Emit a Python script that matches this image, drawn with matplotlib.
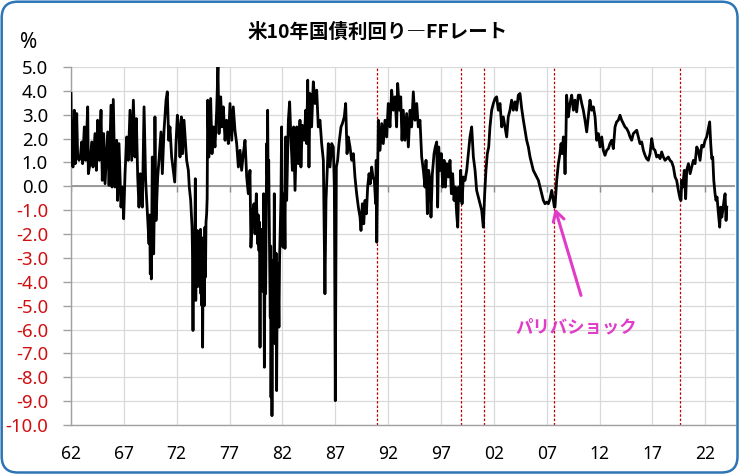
import matplotlib
matplotlib.use("Agg")
import matplotlib.pyplot as plt
from matplotlib.patches import FancyBboxPatch
import numpy as np

# ---------------- data (decimal year, 10y yield minus FF rate, %) ----------------
dates_1960s = [1962.00, 1962.06, 1962.19, 1962.31, 1962.41, 1962.54, 1962.63, 1962.76, 1962.88,
               1963.01, 1963.10, 1963.26, 1963.39, 1963.58, 1963.64, 1963.80, 1963.96,
               1964.08, 1964.27, 1964.40, 1964.52, 1964.68, 1964.84, 1964.96,
               1965.09, 1965.22, 1965.47, 1965.60, 1965.78, 1965.88,
               1966.00, 1966.16, 1966.32, 1966.41, 1966.54, 1966.73, 1966.86, 1966.98,
               1967.11, 1967.27, 1967.42, 1967.58, 1967.74, 1967.90,
               1968.05, 1968.18, 1968.31, 1968.43, 1968.56, 1968.75, 1968.91,
               1969.06, 1969.25, 1969.38, 1969.44, 1969.50, 1969.55, 1969.60, 1969.65, 1969.69,
               1969.75, 1969.82, 1969.88, 1969.94,
               1970.04, 1970.20, 1970.32, 1970.51, 1970.64, 1970.80]
spread_1960s = [3.89, 1.09, 0.81, 3.19, 0.95, 3.05, 1.23, 1.09, 1.23,
                1.86, 0.95, 2.49, 1.09, 3.33, 0.53, 0.95, 1.86,
                0.81, 2.21, 0.67, 2.77, 1.09, 3.19, 0.25,
                2.21, 0.11, 2.28, 0.04, 3.40, -0.03,
                3.64, -0.03, 1.93, -0.59, 1.79, -0.87, -0.03, -1.36,
                0.53, 2.07, 1.09, 3.19, 1.09, 3.61,
                1.23, 2.84, 0.39, -0.87, 0.53, -0.87, 3.33,
                0.25, -1.29, -2.41, -1.20, -3.67, -2.00, -3.88, -1.00, 1.23,
                -0.50, -2.83, -0.80, 2.91,
                -1.43, 0.39, 1.09, 2.28, 0.53, 2.35]

dates_1970s = [1970.99, 1971.11, 1971.24, 1971.36, 1971.52, 1971.68, 1971.81, 1971.93,
               1972.06, 1972.18, 1972.31, 1972.44, 1972.56, 1972.69, 1972.81, 1972.94,
               1973.10, 1973.19, 1973.32,
               1973.45, 1973.50, 1973.54, 1973.58, 1973.62, 1973.67, 1973.72, 1973.76, 1973.80, 1973.85,
               1973.90, 1973.95, 1974.00, 1974.04, 1974.08, 1974.13, 1974.17, 1974.20, 1974.25, 1974.29,
               1974.33, 1974.38, 1974.42, 1974.45, 1974.50, 1974.55, 1974.60, 1974.64, 1974.67, 1974.72,
               1974.77, 1974.83, 1974.88, 1974.93,
               1975.05, 1975.21, 1975.34, 1975.46, 1975.62, 1975.78, 1975.90,
               1976.00, 1976.16, 1976.28, 1976.41, 1976.57, 1976.72, 1976.88,
               1977.04, 1977.20, 1977.35]
spread_1970s = [3.61, 3.96, 1.93, 2.49, 1.23, 0.67, 0.18, 1.79,
                2.98, 2.49, 1.23, 2.91, 1.37, 2.77, 1.93, 1.09,
                0.67, -0.03, -0.59,
                -1.71, -3.00, -6.04, -2.20, -4.00, -4.50, -2.00, 0.32, -4.78, -2.40,
                -4.20, -1.85, -3.50, -2.00, -2.55, -4.20, -2.50, -3.67, -1.80, -4.50,
                -2.13, -5.00, -3.20, -6.74, -3.00, -3.39, -5.00, -2.50, -1.71, -3.80,
                -1.50, -1.15, -0.50, 3.61,
                1.23, 3.68, 1.37, 2.49, 1.65, 3.19, 5.01,
                2.21, 3.75, 2.49, 3.33, 1.93, 2.77, 1.79,
                3.47, 1.93, 3.33]

dates_volcker = [1977.51, 1977.67, 1977.83, 1977.99, 1978.14, 1978.30, 1978.46, 1978.62, 1978.77, 1978.93,
                 1979.02, 1979.15, 1979.31, 1979.40, 1979.53, 1979.66, 1979.72, 1979.78, 1979.83, 1979.88,
                 1979.92, 1979.97,
                 1980.03, 1980.10, 1980.16, 1980.22, 1980.26, 1980.29, 1980.35, 1980.41, 1980.46, 1980.51,
                 1980.55, 1980.60, 1980.65, 1980.70, 1980.75, 1980.79, 1980.85, 1980.89, 1980.92, 1980.96,
                 1981.01, 1981.06, 1981.11, 1981.17, 1981.23, 1981.31, 1981.36, 1981.40, 1981.45, 1981.50,
                 1981.55, 1981.61, 1981.67, 1981.73, 1981.80, 1981.86, 1981.92, 1981.98,
                 1982.05, 1982.11, 1982.18, 1982.24, 1982.30, 1982.35, 1982.40, 1982.56, 1982.68, 1982.81,
                 1982.94, 1983.06]
spread_volcker = [2.35, 1.79, 0.81, 1.51, 0.67, 1.37, 1.93, 0.39, -0.31, 0.67,
                  -2.55, -1.15, -0.73, -1.99, -0.31, -2.41, -1.20, -2.69, -1.50, -6.74,
                  -2.50, -3.67,
                  -1.80, -3.11, -4.40, -0.31, -4.00, -7.58, -3.00, -4.50, -1.00, 1.79,
                  0.50, 3.19, 0.00, 1.09, -1.50, -3.11, -5.50, -2.50, -8.84, -4.00,
                  -9.61, -5.00, -3.11, -5.50, -0.31, -6.60, -5.06, -2.80, -8.56, -4.50,
                  -3.25, -4.00, -5.90, -3.00, -1.71, -0.50, 2.49, -0.80,
                  -2.55, -1.00, -0.31, -2.60, 2.07, 0.50, -0.59, 2.77, 3.54, 1.93,
                  0.67, 2.49]

dates_1980s = [1983.19, 1983.35, 1983.50, 1983.66, 1983.75, 1983.88,
               1984.07, 1984.20, 1984.29, 1984.39, 1984.51, 1984.61, 1984.76, 1984.92,
               1985.08, 1985.24, 1985.39, 1985.55, 1985.71, 1985.87,
               1986.02, 1986.12, 1986.21, 1986.34, 1986.50, 1986.66, 1986.81, 1986.91,
               1987.00, 1987.10, 1987.22, 1987.35, 1987.54, 1987.67, 1987.85, 1987.98,
               1988.11, 1988.23, 1988.39, 1988.55, 1988.71, 1988.86,
               1989.02, 1989.18, 1989.34, 1989.43, 1989.56, 1989.69, 1989.81, 1989.94,
               1990.06, 1990.19, 1990.31, 1990.44, 1990.56, 1990.69, 1990.82, 1990.87, 1990.92]
spread_1980s = [-0.17, 2.49, 0.95, 2.77, 0.81, 2.56,
                1.93, 3.19, 1.79, 4.45, 0.81, 3.89, 2.49, 4.38,
                3.47, 4.03, 2.49, 2.77, 1.79, 1.09,
                -4.50, -0.59, 0.39, 1.79, 0.81, 1.79, 1.65, -0.03,
                -8.98, 0.81, 1.09, 1.79, 2.49, 2.63, 2.91, 3.47,
                1.37, 2.07, 1.65, 1.09, 1.37, 0.39,
                -0.31, -0.87, -1.29, -1.85, -0.73, -1.57, -0.59, -1.15,
                -0.03, 0.53, 0.11, 0.81, 0.39, 0.25, -0.73, 1.09, -2.34]

dates_1990s = [1991.07, 1991.23, 1991.39, 1991.54, 1991.70, 1991.86,
               1992.01, 1992.17, 1992.33, 1992.49, 1992.65, 1992.80, 1992.90,
               1993.06, 1993.19, 1993.31, 1993.43, 1993.59, 1993.75, 1993.91,
               1994.07, 1994.22, 1994.38, 1994.54, 1994.70, 1994.85,
               1995.01, 1995.17, 1995.33, 1995.48, 1995.58, 1995.71, 1995.83, 1995.96,
               1996.05, 1996.18, 1996.34, 1996.46, 1996.59, 1996.68, 1996.78, 1996.91,
               1997.03, 1997.16, 1997.29, 1997.41, 1997.54, 1997.70, 1997.85, 1997.98,
               1998.10, 1998.23, 1998.35, 1998.48, 1998.58, 1998.67, 1998.80, 1998.86, 1998.99,
               1999.11, 1999.27, 1999.43, 1999.59, 1999.74, 1999.90,
               2000.06, 2000.22, 2000.37, 2000.53, 2000.69, 2000.85]
spread_1990s = [2.77, 1.51, 2.63, 1.79, 2.77, 2.07,
                3.47, 2.49, 4.03, 3.19, 3.75, 2.49, 4.31,
                3.19, 3.75, 1.93, 3.19, 1.93, 3.05, 1.65,
                3.19, 2.49, 3.96, 2.77, 3.47, 2.49,
                2.77, 1.23, 0.67, -0.03, 1.09, -1.15, 0.67, 0.25,
                -1.29, 0.53, 1.37, 1.65, 1.86, -0.87, 1.65, 0.67,
                1.37, -0.03, 1.09, -0.03, 0.95, 0.39, 1.09, -0.31,
                0.53, -0.59, -0.03, -1.15, -1.71, -0.03, -0.59, 0.67, -0.73,
                0.39, 0.25, 0.67, 1.37, 2.07, 2.49,
                1.23, 0.67, -0.17, -0.45, -0.73, -1.01]

dates_2000s = [2001.00, 2001.13, 2001.25, 2001.38, 2001.51, 2001.63, 2001.79, 2001.95,
               2002.11, 2002.26, 2002.42, 2002.58, 2002.74, 2002.89,
               2003.05, 2003.21, 2003.36, 2003.52, 2003.68, 2003.84,
               2004.00, 2004.15, 2004.31, 2004.47, 2004.63, 2004.79, 2004.94,
               2005.10, 2005.26, 2005.42, 2005.58, 2005.73, 2005.89,
               2006.05, 2006.21, 2006.37, 2006.52, 2006.68, 2006.84,
               2007.00, 2007.15, 2007.31, 2007.47, 2007.63, 2007.72, 2007.78, 2007.94,
               2008.10, 2008.25, 2008.35, 2008.47, 2008.57, 2008.66, 2008.73, 2008.82, 2008.88,
               2009.04, 2009.20, 2009.36, 2009.52, 2009.67, 2009.83, 2009.99]
spread_2000s = [-1.71, -0.31, 0.67, 1.37, 1.65, 2.49, 3.19, 3.47,
                3.68, 3.75, 3.19, 3.47, 2.49, 2.91,
                2.49, 2.07, 2.91, 3.19, 3.61, 3.19,
                3.54, 3.19, 3.82, 3.89, 3.26, 2.77, 2.35,
                1.93, 1.65, 1.23, 0.95, 0.67, 0.53,
                0.39, 0.25, -0.03, -0.31, -0.59, -0.73,
                -0.66, -0.73, -0.52, -0.17, -0.59, -0.87, -0.87, 0.25,
                0.95, 1.37, 1.79, 1.37, 2.07, 1.65, 0.53, 2.21, 3.82,
                2.91, 3.47, 3.82, 3.19, 3.61, 3.12, 3.82]

dates_2010s = [2010.15, 2010.31, 2010.46, 2010.62, 2010.78, 2010.93,
               2011.09, 2011.25, 2011.41, 2011.57, 2011.72, 2011.88,
               2012.04, 2012.20, 2012.35, 2012.51, 2012.67, 2012.83, 2012.98,
               2013.14, 2013.30, 2013.46, 2013.61, 2013.77, 2013.93,
               2014.09, 2014.24, 2014.40, 2014.56, 2014.72, 2014.88,
               2015.03, 2015.19, 2015.35, 2015.51, 2015.66, 2015.82, 2015.98,
               2016.14, 2016.30, 2016.45, 2016.61, 2016.77, 2016.93,
               2017.08, 2017.24, 2017.40, 2017.56, 2017.72, 2017.87,
               2018.03, 2018.19, 2018.35, 2018.50, 2018.66, 2018.82, 2018.98,
               2019.14, 2019.29, 2019.45, 2019.61, 2019.70, 2019.77, 2019.86]
spread_2010s = [3.82, 3.47, 3.19, 2.77, 2.28, 2.91,
                3.61, 3.19, 3.33, 2.91, 1.93, 2.21,
                1.65, 2.07, 1.51, 1.30, 1.51, 1.58, 1.79,
                1.93, 1.58, 2.49, 2.70, 2.77, 2.98,
                2.77, 2.63, 2.49, 2.42, 2.28, 2.07,
                1.93, 2.21, 2.28, 2.35, 2.07, 1.79, 1.86,
                1.51, 1.30, 1.16, 1.09, 1.37, 2.00,
                1.58, 1.51, 1.23, 1.30, 1.16, 1.44,
                1.23, 1.09, 1.16, 1.23, 1.09, 1.02, 0.81,
                0.39, 0.25, -0.17, -0.52, -0.59, 0.25, -0.03]

dates_2020s = [2020.01, 2020.14, 2020.24, 2020.40, 2020.56, 2020.71, 2020.87,
               2021.03, 2021.19, 2021.34, 2021.50, 2021.66, 2021.82, 2021.98,
               2022.13, 2022.29, 2022.41, 2022.51, 2022.61, 2022.70, 2022.80, 2022.92,
               2023.01, 2023.11, 2023.24, 2023.36, 2023.45, 2023.56, 2023.65, 2023.77, 2023.87, 2023.96,
               2024.03]
spread_2020s = [0.67, -0.52, 0.67, 0.95, 0.53, 0.81, 1.09,
                0.95, 1.65, 1.51, 1.09, 1.72, 1.65, 1.93,
                2.07, 2.42, 2.70, 1.79, 1.16, 1.23, 0.25, -0.31,
                -0.59, -0.45, -1.15, -1.71, -0.87, -1.29, -1.01, -0.59, -0.31, -1.43,
                -0.87]

cut_dates = [1990.92, 1998.87, 2001.04, 2007.65, 2019.64]   # red dotted lines
x_tick_years = [1962, 1967, 1972, 1977, 1982, 1987, 1992, 1997, 2002, 2007, 2012, 2017, 2022]
x_tick_labels = ["62", "67", "72", "77", "82", "87", "92", "97", "02", "07", "12", "17", "22"]
y_tick_values = [5, 4, 3, 2, 1, 0, -1, -2, -3, -4, -5, -6, -7, -8, -9, -10]
title_text = "米10年国債利回り―FFレート"
note_text = "パリバショック"
note_tip = (2007.78, -0.92)
note_tail = (2010.24, -4.57)
note_pos = (2009.77, -5.92)

dates = (dates_1960s + dates_1970s + dates_volcker + dates_1980s + dates_1990s
         + dates_2000s + dates_2010s + dates_2020s)
spread = (spread_1960s + spread_1970s + spread_volcker + spread_1980s + spread_1990s
          + spread_2000s + spread_2010s + spread_2020s)

# ---------------- styling ----------------
CJK = ["Noto Sans CJK JP", "DejaVu Sans"]
NUM = ["Noto Sans", "DejaVu Sans"]
MAGENTA = "#E03CC8"
AXIS_GRAY = "#A0A0A0"
GRID_GRAY = "#D9D9D9"

fig = plt.figure(figsize=(7.4, 4.75), dpi=100)
fig.patch.set_facecolor("white")

ax = fig.add_axes([71 / 740, 1 - 425 / 475, (735 - 71) / 740, (425 - 67) / 475])
ax.set_xlim(1962.0, 1962.0 + (735 - 71) / 10.572)
ax.set_ylim(-10, 5)

# grid
ax.set_xticks(x_tick_years)
ax.set_xticklabels(x_tick_labels)
ax.set_yticks(y_tick_values)
ax.set_yticklabels([f"{v:.1f}" for v in y_tick_values])
ax.grid(True, color=GRID_GRAY, lw=0.9, zorder=0)
ax.set_axisbelow(True)

for side in ["top", "right"]:
    ax.spines[side].set_visible(False)
for side in ["left", "bottom"]:
    ax.spines[side].set_color(AXIS_GRAY)
    ax.spines[side].set_linewidth(1.0)

ax.tick_params(axis="y", length=6, width=1.0, color=AXIS_GRAY, pad=10.5, labelsize=13.4)
ax.tick_params(axis="x", length=0, pad=14.5, labelsize=12.5)
for lbl, v in zip(ax.get_yticklabels(), y_tick_values):
    lbl.set_family(NUM)
    lbl.set_color("#D01010" if v < 0 else "black")
for lbl in ax.get_xticklabels():
    lbl.set_family(NUM)
    lbl.set_color("black")

# zero line with small tick marks
ax.axhline(0, color="#8C8C8C", lw=1.2, zorder=1.2)
ax.vlines(x_tick_years, -0.25, 0, color="#8C8C8C", lw=1.0, zorder=1.2)

# red dotted lines (rate-cut starts)
ax.vlines(cut_dates, -10, 5, colors="#C00000", linestyles=(0, (2.0, 1.5)), lw=0.9, zorder=1.5)

# series
ax.plot(dates, spread, color="black", lw=2.0, zorder=3)

# annotation
ax.annotate("", xy=note_tip, xytext=note_tail,
            arrowprops=dict(arrowstyle="->,head_length=0.7,head_width=0.4",
                            color=MAGENTA, lw=2.2, shrinkA=0, shrinkB=0),
            zorder=4)
ax.text(note_pos[0], note_pos[1], note_text, color=MAGENTA, fontsize=12.5,
        fontweight="bold", ha="center", va="center", family=CJK, zorder=4)

# title and unit
fig.text(377.5 / 740, 1 - 32 / 475, title_text, ha="center", va="center",
         fontsize=14, fontweight="bold", family=CJK)
fig.text(29 / 740, 1 - 42 / 475, "%", ha="center", va="center",
         fontsize=15, fontweight="bold", family=NUM)

# rounded blue frame
frame = FancyBboxPatch((0.017, 0.025), 7.358, 4.708,
                       boxstyle="round,pad=0,rounding_size=0.16",
                       transform=fig.dpi_scale_trans, fill=False,
                       edgecolor="#2E75B6", linewidth=1.8, zorder=10)
fig.patches.append(frame)

fig.savefig("out.png", dpi=100, facecolor="white")
